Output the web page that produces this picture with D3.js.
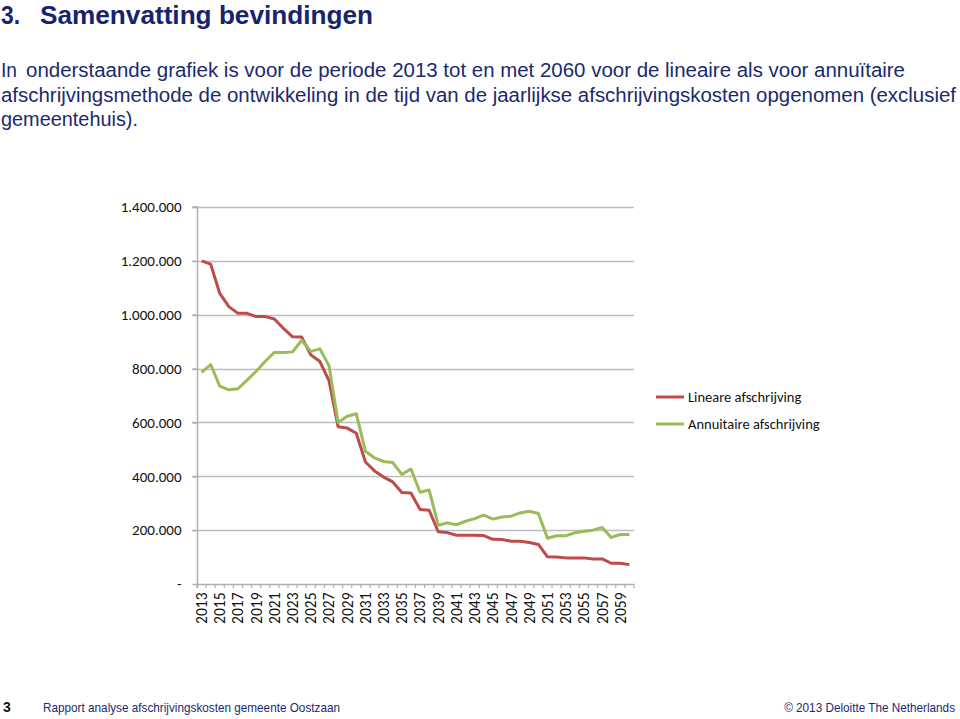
<!DOCTYPE html>
<html><head><meta charset="utf-8">
<script src="https://cdn.jsdelivr.net/npm/d3@7"></script>
<style>body{margin:0;background:#fff}svg{display:block}</style>
</head><body>
<svg id="c" width="960" height="719"></svg>
<script>
const years = d3.range(2013, 2061);
const lineair = [1200000,1188000,1079000,1030000,1005000,1005000,993000,993000,984000,949000,918000,917000,851000,826000,755000,584000,579000,560000,453000,420000,397000,379000,340000,338000,277000,274000,194000,191000,181000,181000,181000,180000,166000,165000,159000,159000,154000,147000,101000,100000,97000,97000,97000,93000,93000,77000,77000,72000];
const annuitair = [786000,815000,735000,721000,725000,757000,790000,827000,860000,860000,862000,905000,864000,873000,811000,600000,623000,632000,493000,468000,455000,451000,407000,427000,341000,349000,218000,227000,220000,233000,243000,256000,241000,249000,252000,264000,270000,262000,170000,179000,179000,190000,196000,200000,210000,173000,184000,184000];
const yTicks = [0,200000,400000,600000,800000,1000000,1200000,1400000];
const yTickLabels = ["-","200.000","400.000","600.000","800.000","1.000.000","1.200.000","1.400.000"];
const seriesNames = ["Lineare afschrijving","Annuitaire afschrijving"];
const seriesColors = ["#be4b48","#9bbb59"];
const titleNum = "3.";
const titleText = "Samenvatting bevindingen";
const bodyLines = [["In", "onderstaande grafiek is voor de periode 2013 tot en met 2060 voor de lineaire als voor annuïtaire"],
 ["", "afschrijvingsmethode de ontwikkeling in de tijd van de jaarlijkse afschrijvingskosten opgenomen (exclusief"],
 ["", "gemeentehuis)."]];

const svg = d3.select("#c");
const navy = "#1b2a6e";
const arial = "Liberation Sans, Arial, sans-serif";
// header text
svg.append("text").attr("x",1).attr("y",24).attr("font-family",arial)
  .attr("font-weight","bold").attr("font-size",26).attr("fill","#17246b")
  .attr("textLength",19).attr("lengthAdjust","spacingAndGlyphs").text(titleNum);
svg.append("text").attr("x",40).attr("y",24).attr("font-family",arial)
  .attr("font-weight","bold").attr("font-size",26).attr("fill","#17246b")
  .attr("textLength",333).attr("lengthAdjust","spacingAndGlyphs").text(titleText);
const bodyW = [879, 955, 137];
const bodyX = [26, 1, 1];
bodyLines.forEach((t,i)=>{
  if (t[0]) svg.append("text").attr("x",1).attr("y",77).attr("font-family",arial)
    .attr("font-size",19.5).attr("fill",navy).attr("textLength",16).attr("lengthAdjust","spacingAndGlyphs").text(t[0]);
  svg.append("text").attr("x",bodyX[i]).attr("y",77+i*24.5).attr("font-family",arial)
    .attr("font-size",19.5).attr("fill",navy)
    .attr("textLength",bodyW[i]).attr("lengthAdjust","spacingAndGlyphs").text(t[1]);
});
// footer
svg.append("text").attr("x",3).attr("y",712).attr("font-family",arial)
  .attr("font-weight","bold").attr("font-size",14).attr("fill","#111").text("3");
svg.append("text").attr("x",43).attr("y",712).attr("font-family",arial)
  .attr("font-size",13.5).attr("fill",navy).attr("textLength",297).attr("lengthAdjust","spacingAndGlyphs")
  .text("Rapport analyse afschrijvingskosten gemeente Oostzaan");
svg.append("g").attr("transform","translate(955,712) scale(0.87,1)")
  .append("text").attr("x",0).attr("y",0).attr("text-anchor","end").attr("font-family",arial)
  .attr("font-size",13.5).attr("fill",navy)
  .text("© 2013 Deloitte The Netherlands");

// chart
const x0 = 197, x1 = 634, yTop = 207, yBot = 584;
const xb = d3.scaleBand().domain(years).range([x0,x1]);
const y = d3.scaleLinear().domain([0,1400000]).range([yBot,yTop]);
const g = svg.append("g");
const font = "Carlito, 'Open Sans', Lato, sans-serif";

// gridlines
g.selectAll(".grid").data(yTicks.slice(1)).join("line")
  .attr("x1",x0-5).attr("x2",x1).attr("y1",d=>Math.round(y(d))+0.5).attr("y2",d=>Math.round(y(d))+0.5)
  .attr("stroke","#bdbdbd").attr("stroke-width",1.5);
// y axis
const yAxis = d3.axisLeft(y).tickValues(yTicks).tickFormat((d,i)=>yTickLabels[i]).tickSize(5).tickPadding(11);
const ya = g.append("g").attr("transform",`translate(${x0+0.5},0)`).call(yAxis);
ya.select(".domain").attr("stroke","#b0b0b0").attr("stroke-width",1.5).attr("d",`M-5,${yTop}H0V${yBot+4}`);
ya.selectAll(".tick line").attr("stroke","#b0b0b0").attr("stroke-width",1.5);
ya.selectAll("text").attr("font-family",font).attr("font-size",15).attr("fill","#111");
// x axis
const xAxis = d3.axisBottom(xb).tickValues(years.filter((d,i)=>i%2===0)).tickSize(0).tickPadding(0);
const xa = g.append("g").attr("transform",`translate(0,${yBot+0.5})`).call(xAxis);
xa.select(".domain").attr("stroke","#b0b0b0").attr("stroke-width",1.5).attr("d",`M${x0},0H${x1}`);
xa.selectAll("text").attr("font-family",font).attr("font-size",15.5).attr("fill","#111")
  .attr("transform","rotate(-90)").attr("x",-8).attr("y",0).attr("dy","0.35em").attr("text-anchor","end");
// category boundary ticks
const bounds = years.map(d=>xb(d)).concat([x1]);
g.selectAll(".bt").data(bounds).join("line")
  .attr("x1",d=>d).attr("x2",d=>d).attr("y1",yBot).attr("y2",yBot+4)
  .attr("stroke","#b0b0b0").attr("stroke-width",1.2);

// lines
const cx = d=>xb(d)+xb.bandwidth()/2;
[lineair, annuitair].forEach((vals,k)=>{
  const line = d3.line().x((d,i)=>cx(years[i])).y(d=>y(d));
  g.append("path").datum(vals).attr("d",line).attr("fill","none")
    .attr("stroke",seriesColors[k]).attr("stroke-width",3).attr("stroke-linejoin","round");
});

// legend
seriesNames.forEach((n,k)=>{
  const ly = 397 + k*27;
  g.append("line").attr("x1",656).attr("x2",684).attr("y1",ly).attr("y2",ly)
    .attr("stroke",seriesColors[k]).attr("stroke-width",3);
  g.append("text").attr("x",688).attr("y",ly).attr("dy","0.35em").attr("font-family",font)
    .attr("font-size",14.5).attr("fill","#111").text(n);
});
</script>
</body></html>
